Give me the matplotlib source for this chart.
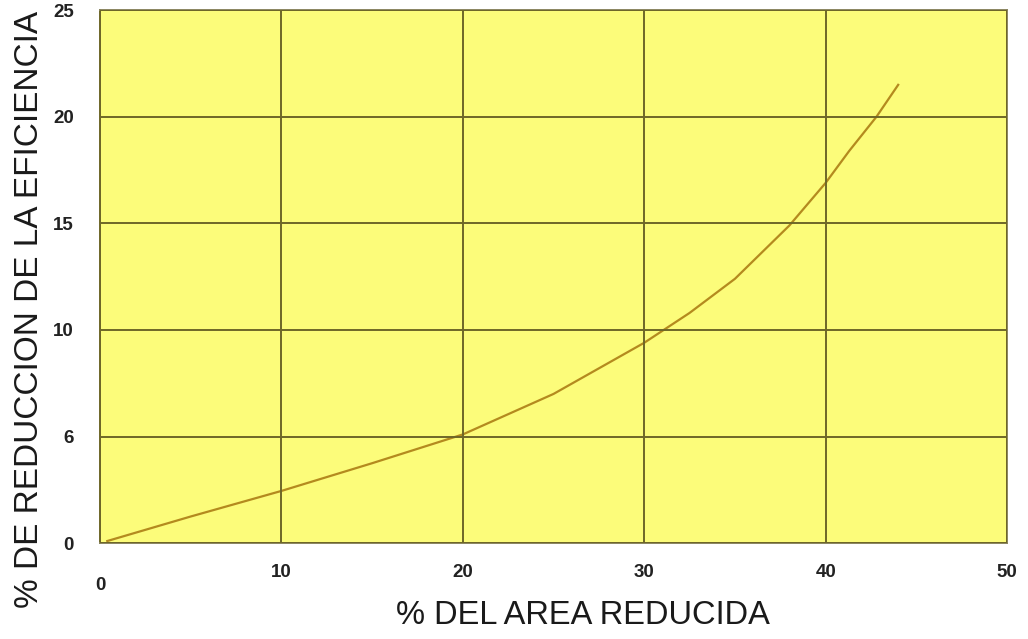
import matplotlib
matplotlib.use("Agg")
import matplotlib.pyplot as plt
import matplotlib.transforms as mtransforms

# curve
area = [0.4, 5, 10, 15, 20, 25, 30, 32.5, 35, 38, 40, 41.3, 42.8, 44]
efic = [0.1, 1.25, 2.45, 3.75, 5.1, 7.0, 9.4, 10.8, 12.4, 14.9, 16.9, 18.4, 20, 21.5]

xticks = [0, 10, 20, 30, 40, 50]
xlabels = ["0", "10", "20", "30", "40", "50"]
yticks = [0, 5, 10, 15, 20, 25]
ylabels = ["0", "6", "10", "15", "20", "25"]

plt.rcParams['font.family'] = ['Liberation Sans', 'DejaVu Sans']

fig = plt.figure(figsize=(10.28, 6.39), dpi=100)
ax = fig.add_axes([0.0973, 0.150, 0.8823, 0.834])
ax.set_facecolor("#fcfc7a")

ax.plot(area, efic, color="#b48a1e", lw=1.6)

ax.set_xlim(0, 50)
ax.set_ylim(0, 25)
ax.set_xticks(xticks)
ax.set_xticklabels(xlabels, fontsize=13.5, fontweight="bold", color="#222222")
ax.set_yticks(yticks)
ax.set_yticklabels(ylabels, fontsize=13.5, fontweight="bold", color="#222222")
ax.tick_params(axis="both", length=0)
ax.tick_params(axis="x", pad=15)
ax.tick_params(axis="y", pad=19)

# the "0" on the x axis sits a bit lower
lbl0 = ax.get_xticklabels()[0]
lbl0.set_transform(lbl0.get_transform() + mtransforms.ScaledTranslation(0, -13 / 100, fig.dpi_scale_trans))

ax.grid(True, color="#6e6628", lw=1.4)
ax.set_axisbelow(False)
for s in ax.spines.values():
    s.set_color("#8a8560")
    s.set_linewidth(1.4)
ax.spines["left"].set_color("#6e6628")

fig.text(0.567, 0.037, "% DEL AREA REDUCIDA", fontsize=23.5, ha="center", va="center", color="#1a1a1a")
fig.text(0.029, 0.515, "% DE REDUCCION DE LA EFICIENCIA", fontsize=24, rotation=90,
         ha="center", va="center", color="#1a1a1a")

fig.savefig("out.png", dpi=100, facecolor="white")
